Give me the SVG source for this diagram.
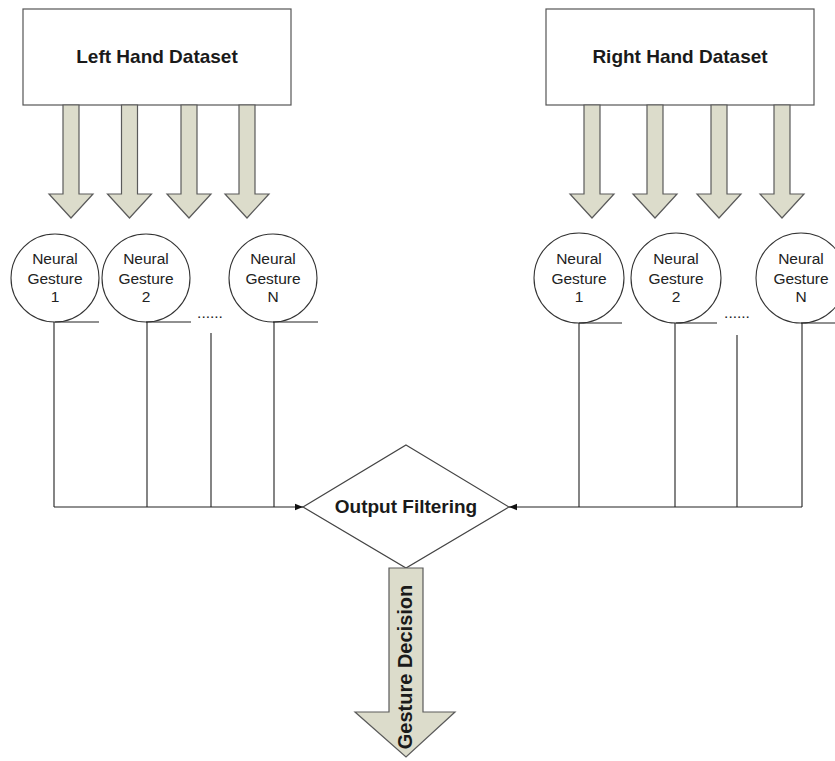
<svg xmlns="http://www.w3.org/2000/svg" width="835" height="761" viewBox="0 0 835 761">
  <style>
    .box { fill: #ffffff; stroke: #555555; stroke-width: 1.2; }
    .fat { fill: #dcdccb; stroke: #5a5a5a; stroke-width: 1.2; }
    .circ { fill: #ffffff; stroke: #333333; stroke-width: 1.1; }
    .wire { fill: none; stroke: #222222; stroke-width: 1.1; }
    .title { font-family: "Liberation Sans", Arial, sans-serif; font-weight: bold; font-size: 19px; fill: #1a1a1a; text-anchor: middle; }
    .lbl { font-family: "Liberation Sans", Arial, sans-serif; font-size: 15.5px; fill: #222222; text-anchor: middle; }
  </style>
  <defs>
    <!-- block arrow pointing down, origin at centre of shaft top -->
    <path id="down" d="M -8 0 L 8 0 L 8 89 L 22 89 L 0 113 L -22 89 L -8 89 Z"/>
    <marker id="tip" viewBox="0 0 10 10" refX="10" refY="5" markerWidth="8" markerHeight="8" markerUnits="userSpaceOnUse" orient="auto">
      <path d="M 0 1 L 10 5 L 0 9 Z" fill="#111111"/>
    </marker>
  </defs>
  <rect width="835" height="761" fill="#ffffff"/>

  <!-- Left side -->
  <g id="left-dataset">
    <rect class="box" x="23" y="9" width="268" height="96"/>
    <text class="title" x="157" y="63">Left Hand Dataset</text>
  </g>
  <g id="left-feeds">
    <use href="#down" class="fat" x="71" y="105"/>
    <use href="#down" class="fat" x="129.5" y="105"/>
    <use href="#down" class="fat" x="189" y="105"/>
    <use href="#down" class="fat" x="247" y="105"/>
  </g>
  <g id="left-ng1">
    <circle class="circ" cx="55" cy="278" r="44"/>
    <text class="lbl" x="55" y="264">Neural</text>
    <text class="lbl" x="55" y="284">Gesture</text>
    <text class="lbl" x="55" y="302">1</text>
  </g>
  <g id="left-ng2">
    <circle class="circ" cx="146" cy="278" r="44"/>
    <text class="lbl" x="146" y="264">Neural</text>
    <text class="lbl" x="146" y="284">Gesture</text>
    <text class="lbl" x="146" y="302">2</text>
  </g>
  <g id="left-dots">
    <text class="lbl" x="210" y="318">......</text>
  </g>
  <g id="left-ngN">
    <circle class="circ" cx="273" cy="278" r="44"/>
    <text class="lbl" x="273" y="264">Neural</text>
    <text class="lbl" x="273" y="284">Gesture</text>
    <text class="lbl" x="273" y="302">N</text>
  </g>

  <!-- Right side -->
  <g id="right-dataset">
    <rect class="box" x="546" y="9" width="268" height="96"/>
    <text class="title" x="680" y="63">Right Hand Dataset</text>
  </g>
  <g id="right-feeds">
    <use href="#down" class="fat" x="592" y="105"/>
    <use href="#down" class="fat" x="655" y="105"/>
    <use href="#down" class="fat" x="719" y="105"/>
    <use href="#down" class="fat" x="782" y="105"/>
  </g>
  <g id="right-ng1">
    <circle class="circ" cx="579" cy="278" r="45"/>
    <text class="lbl" x="579" y="264">Neural</text>
    <text class="lbl" x="579" y="284">Gesture</text>
    <text class="lbl" x="579" y="302">1</text>
  </g>
  <g id="right-ng2">
    <circle class="circ" cx="676" cy="278" r="45"/>
    <text class="lbl" x="676" y="264">Neural</text>
    <text class="lbl" x="676" y="284">Gesture</text>
    <text class="lbl" x="676" y="302">2</text>
  </g>
  <g id="right-dots">
    <text class="lbl" x="737" y="318">......</text>
  </g>
  <g id="right-ngN">
    <circle class="circ" cx="801" cy="278" r="45"/>
    <text class="lbl" x="801" y="264">Neural</text>
    <text class="lbl" x="801" y="284">Gesture</text>
    <text class="lbl" x="801" y="302">N</text>
  </g>

  <!-- Decision -->
  <g id="output-filtering">
    <path class="box" d="M 406 445 L 509 507 L 406 568 L 303 507 Z" style="stroke:#444444"/>
    <text class="title" x="406" y="513">Output Filtering</text>
  </g>
  <g id="gesture-decision">
    <path class="fat" d="M 389 568 L 423 568 L 423 712 L 455 712 L 406 757 L 355 712 L 389 712 Z"/>
    <text class="title" transform="translate(412 667) rotate(-90)" x="0" y="0" style="font-size:20px">Gesture Decision</text>
  </g>

  <!-- Connectors -->
  <g id="connectors">
    <!-- underlines of the gesture units -->
    <path class="wire" d="M 55 322 H 99 M 146 322 H 191 M 273 322 H 318"/>
    <path class="wire" d="M 579 323 H 622 M 676 323 H 717 M 801 323 H 835"/>
    <!-- left bus -->
    <path class="wire" d="M 54 322 V 507 M 147 322 V 507 M 211 333 V 507 M 274 322 V 507"/>
    <path class="wire" d="M 54 507 H 303" marker-end="url(#tip)"/>
    <!-- right bus -->
    <path class="wire" d="M 579 323 V 507 M 675 323 V 507 M 737 335 V 507 M 802 323 V 507"/>
    <path class="wire" d="M 802 507 H 509" marker-end="url(#tip)"/>
  </g>
</svg>
